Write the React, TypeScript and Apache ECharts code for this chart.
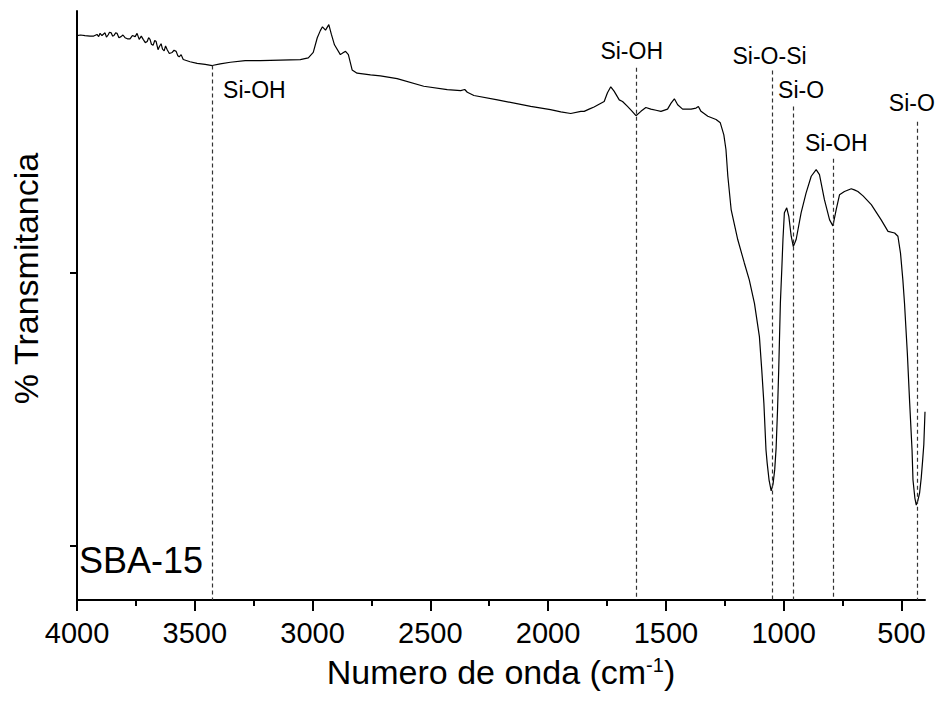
import React, { useEffect, useRef } from 'react';
import * as echarts from 'echarts';

const wavenumber = [
  4000, 3985, 3966, 3945, 3929, 3915, 3908, 3902, 3894, 3881, 3875, 3868, 3862, 3855, 3849, 3843,
  3836, 3830, 3822, 3813, 3805, 3796, 3786, 3775, 3765, 3753, 3745, 3736, 3727, 3719, 3710, 3702,
  3696, 3690, 3684, 3677, 3670, 3664, 3656, 3650, 3643, 3637, 3630, 3624, 3617, 3608, 3596, 3588,
  3579, 3572, 3566, 3558, 3549, 3520, 3490, 3456, 3426, 3392, 3349, 3286, 3222, 3137, 3052, 3018,
  2997, 2980, 2967, 2958, 2945, 2931, 2920, 2907, 2882, 2869, 2860, 2848, 2832, 2811, 2754, 2712,
  2641, 2528, 2428, 2371, 2354, 2343, 2315, 2215, 2074, 1990, 1946, 1904, 1861, 1847, 1826, 1805,
  1762, 1748, 1734, 1720, 1698, 1684, 1663, 1645, 1627, 1606, 1585, 1564, 1542, 1521, 1493, 1478,
  1464, 1450, 1429, 1393, 1372, 1362, 1351, 1322, 1287, 1269, 1254, 1245, 1237, 1223, 1195, 1167,
  1146, 1124, 1103, 1093, 1084, 1075, 1070, 1062, 1053, 1045, 1038, 1032, 1026, 1021, 1014, 1008,
  1003, 997, 987, 978, 968, 959, 947, 926, 905, 883, 862, 848, 827, 805, 791, 777,
  763, 742, 713, 700, 685, 663, 628, 586, 557, 529, 515, 504, 494, 487, 475, 465,
  455, 451, 443, 437, 430, 423, 416, 410, 405, 400,
];

const transmittance = [
  103.5, 103.6, 103.5, 103.4, 103.4, 103.7, 103.3, 103.9, 103.5, 104.0, 103.2, 103.6, 104.1, 104.0, 103.4, 103.5,
  104.0, 103.9, 103.1, 103.3, 103.6, 103.1, 102.9, 102.9, 103.5, 103.3, 103.9, 102.8, 103.4, 102.8, 102.2, 102.4,
  103.1, 102.8, 101.9, 101.7, 102.6, 102.4, 100.9, 101.5, 102.0, 101.0, 100.7, 101.6, 100.9, 100.2, 100.4, 100.8,
  100.6, 99.8, 99.6, 100.0, 99.1, 98.7, 98.4, 98.2, 98.0, 98.3, 98.6, 98.9, 98.9, 99.0, 99.1, 99.4,
  100.4, 103.1, 104.4, 105.1, 104.5, 105.5, 103.7, 101.8, 100.0, 100.4, 100.6, 100.0, 97.2, 96.6, 96.3, 96.1,
  95.6, 94.2, 93.6, 93.4, 93.6, 93.1, 92.5, 91.7, 90.5, 89.9, 89.5, 89.2, 89.6, 89.6, 90.0, 90.4,
  91.4, 93.0, 94.1, 93.3, 91.7, 91.4, 90.5, 89.7, 88.8, 89.6, 90.3, 90.0, 89.8, 89.6, 90.0, 91.1,
  91.9, 90.8, 90.0, 90.0, 90.2, 90.5, 89.6, 88.7, 88.1, 87.5, 85.3, 82.6, 77.7, 71.6, 66.1, 61.8,
  58.7, 54.4, 48.3, 42.2, 36.1, 27.5, 25.1, 22.0, 20.0, 21.3, 23.9, 27.9, 34.9, 42.2, 54.4, 60.6,
  66.1, 71.0, 71.9, 70.3, 66.7, 64.8, 66.1, 71.0, 74.6, 77.7, 78.9, 78.0, 73.4, 69.7, 68.6, 71.6,
  74.3, 74.9, 75.4, 75.2, 74.9, 74.1, 72.5, 69.7, 67.6, 67.3, 66.7, 63.6, 58.7, 54.4, 45.3, 36.1,
  27.5, 22.0, 18.7, 17.4, 18.3, 19.6, 22.4, 25.6, 28.5, 34.5,
];

const majorTicks = [4000, 3500, 3000, 2500, 2000, 1500, 1000, 500];
const minorTicks = [3750, 3250, 2750, 2250, 1750, 1250, 750];
const yTicks = [10, 60];

const bandPositions = [3426, 1627, 1050, 959, 790, 434];
const bandLineTop = [98.0, 97.6, 97.1, 90.5, 80.9, 87.7];
const bandLabels = ['Si-OH', 'Si-OH', 'Si-O-Si', 'Si-O', 'Si-OH', 'Si-O'];
const labelX = [3247, 1645, 1060, 926, 777, 456];
const labelY = [93.6, 100.6, 99.7, 93.6, 83.8, 91.2];

const sampleName = 'SBA-15';
const xTitle = 'Numero de onda (cm{sup|-1})';
const yTitle = '% Transmitancia';

const FONT = 'Liberation Sans, Arial, sans-serif';

export default function App() {
  const ref = useRef<HTMLDivElement>(null);
  useEffect(() => {
    const chart = echarts.init(ref.current!, null, { renderer: 'svg' });
    const gridPos = { left: 77, right: 12, top: 11, bottom: 107 };
    chart.setOption({
      animation: false,
      backgroundColor: '#fff',
      textStyle: { fontFamily: FONT },
      grid: [
        { ...gridPos, containLabel: false },
        { ...gridPos, containLabel: false },
      ],
      xAxis: [
        {
          type: 'value',
          gridIndex: 0,
          min: 400,
          max: 4000,
          inverse: true,
          splitLine: { show: false },
          axisLine: { show: true, lineStyle: { color: '#000', width: 2 } },
          axisTick: { show: true, customValues: majorTicks, length: 11, lineStyle: { color: '#000', width: 2 } },
          axisLabel: {
            show: true,
            customValues: majorTicks,
            formatter: (v: number) => String(v),
            fontSize: 29,
            color: '#000',
            fontFamily: FONT,
            margin: 18,
          },
          name: xTitle,
          nameLocation: 'middle',
          nameGap: 55,
          nameTextStyle: {
            fontSize: 34,
            color: '#000',
            fontFamily: FONT,
            rich: {
              sup: { fontSize: 20, verticalAlign: 'top', fontFamily: FONT, color: '#000' },
            },
          },
        },
        {
          type: 'value',
          gridIndex: 1,
          min: 400,
          max: 4000,
          inverse: true,
          splitLine: { show: false },
          axisLine: { show: false },
          axisTick: { show: true, customValues: minorTicks, length: 6, lineStyle: { color: '#000', width: 2 } },
          axisLabel: { show: false },
        },
      ],
      yAxis: [
        {
          type: 'value',
          gridIndex: 0,
          min: 0,
          max: 108,
          splitLine: { show: false },
          axisLine: { show: true, lineStyle: { color: '#000', width: 2 } },
          axisTick: { show: true, customValues: yTicks, length: 7, lineStyle: { color: '#000', width: 2 } },
          axisLabel: { show: false },
          name: yTitle,
          nameLocation: 'middle',
          nameGap: 34,
          nameTextStyle: { fontSize: 34, color: '#000', fontFamily: FONT, padding: [0, 0, 0, 54] },
        },
        {
          type: 'value',
          gridIndex: 1,
          min: 0,
          max: 108,
          show: false,
        },
      ],
      graphic: [
        {
          type: 'text',
          left: 79,
          top: 542,
          style: { text: sampleName, font: `36px ${FONT}`, fill: '#000' },
        },
      ],
      series: [
        {
          type: 'line',
          xAxisIndex: 0,
          yAxisIndex: 0,
          data: wavenumber.map((w, i) => [w, transmittance[i]]),
          showSymbol: false,
          symbol: 'none',
          lineStyle: { color: '#000', width: 1.2 },
          markLine: {
            silent: true,
            symbol: ['none', 'none'],
            label: { show: false },
            lineStyle: { color: '#333', width: 1.2, type: [4, 3] },
            data: bandPositions.map((w, i) => [
              { coord: [w, bandLineTop[i]] },
              { coord: [w, 0] },
            ]),
          },
        },
        {
          type: 'scatter',
          xAxisIndex: 0,
          yAxisIndex: 0,
          symbolSize: 0,
          clip: false,
          silent: true,
          itemStyle: { color: '#000', opacity: 1 },
          label: {
            show: true,
            position: 'inside',
            formatter: '{b}',
            fontSize: 23,
            color: '#000',
            opacity: 1,
            textBorderWidth: 0,
            fontFamily: FONT,
          },
          data: labelX.map((w, i) => ({ value: [w, labelY[i]], name: bandLabels[i] })),
        },
      ],
    });
    return () => chart.dispose();
  }, []);
  return <div ref={ref} style={{ position: 'fixed', left: 0, top: 0, width: 937, height: 707 }} />;
}
